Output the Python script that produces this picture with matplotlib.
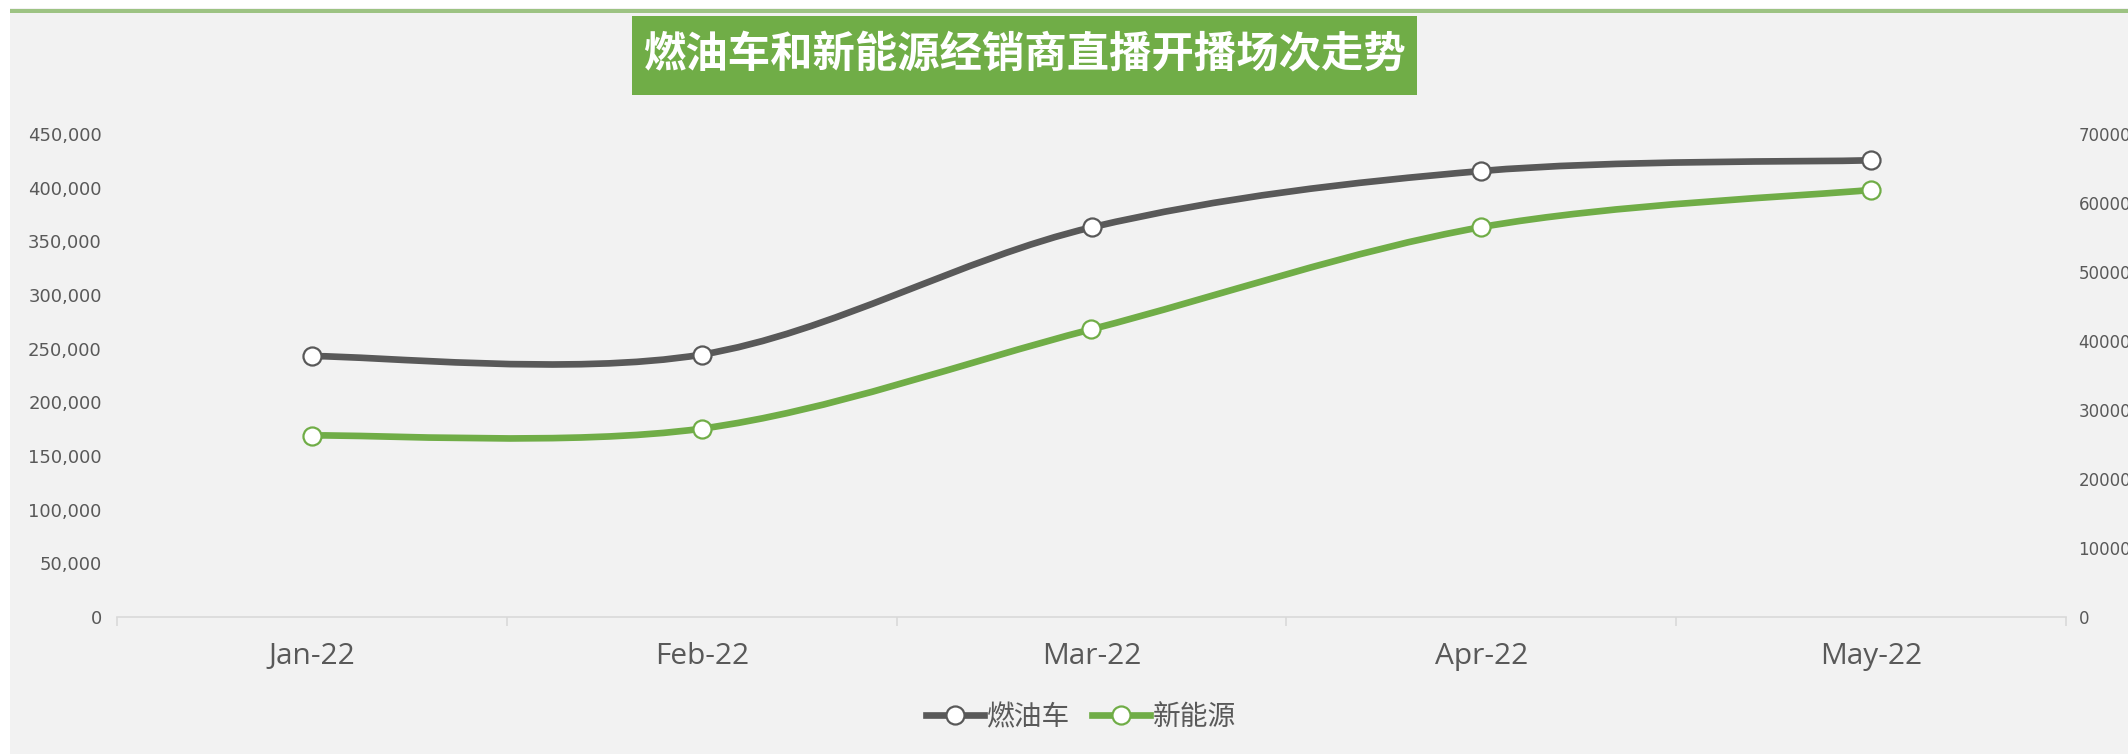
import matplotlib
matplotlib.use('Agg')
import matplotlib.pyplot as plt
import numpy as np
from matplotlib.path import Path
from matplotlib.patches import PathPatch, Rectangle
from matplotlib.lines import Line2D
from matplotlib.ticker import FuncFormatter

months = ['Jan-22', 'Feb-22', 'Mar-22', 'Apr-22', 'May-22']
fuel = [243000, 244500, 363000, 415500, 425500]      # 燃油车, left axis
nev = [26300, 27300, 41700, 56500, 61900]            # 新能源, right axis
left_ticks = [0, 50000, 100000, 150000, 200000, 250000, 300000, 350000, 400000, 450000]
right_ticks = [0, 10000, 20000, 30000, 40000, 50000, 60000, 70000]

title = '燃油车和新能源经销商直播开播场次走势'
GRAY = '#595959'
GREEN = '#70AD47'
TXT = '#595959'
CJK = ['Noto Sans CJK SC', 'DejaVu Sans']


def smooth_path(x, y):
    # Excel-style smoothed line: cubic bezier through every point
    pts = np.column_stack([x, y]).astype(float)
    n = len(pts)
    verts = [pts[0]]
    codes = [Path.MOVETO]
    for i in range(n - 1):
        p0 = pts[max(i - 1, 0)]
        p1 = pts[i]
        p2 = pts[i + 1]
        p3 = pts[min(i + 2, n - 1)]
        c1 = p1 + (p2 - p0) / 6.0
        c2 = p2 - (p3 - p1) / 6.0
        verts += [c1, c2, p2]
        codes += [Path.CURVE4] * 3
    return Path(verts, codes)


fig = plt.figure(figsize=(21.28, 7.54), dpi=100, facecolor='white')

# chart area background + thin green top rule
fig.patches.append(Rectangle((10 / 2128, 0), 1, 1 - 8 / 754, transform=fig.transFigure,
                             facecolor='#F2F2F2', edgecolor='none', zorder=-10))
fig.patches.append(Rectangle((10 / 2128, 1 - 12.5 / 754), 1, 3 / 754, transform=fig.transFigure,
                             facecolor='#9DC383', edgecolor='none', zorder=-9))

ax = fig.add_axes([117 / 2128, 1 - 617 / 754, (2066 - 117) / 2128, (617 - 134) / 754])
ax.set_facecolor('none')
ax2 = ax.twinx()

x = np.arange(len(months))

ax.add_patch(PathPatch(smooth_path(x, fuel), facecolor='none', edgecolor=GRAY,
                       lw=4.8, capstyle='round', zorder=3))
ax.plot(x, fuel, 'o', ms=13, mfc='white', mec=GRAY, mew=1.6, zorder=4)

ax2.add_patch(PathPatch(smooth_path(x, nev), facecolor='none', edgecolor=GREEN,
                        lw=4.8, capstyle='round', zorder=3))
ax2.plot(x, nev, 'o', ms=13, mfc='white', mec=GREEN, mew=1.6, zorder=4)

ax.set_xlim(-0.5, len(months) - 0.5)
ax.set_ylim(0, 450000)
ax2.set_ylim(0, 70000)

ax.set_yticks(left_ticks)
ax.yaxis.set_major_formatter(FuncFormatter(lambda v, p: f'{int(v):,}'))
ax.tick_params(axis='y', length=0, pad=11, labelsize=13, labelcolor=TXT)
ax2.set_yticks(right_ticks)
ax2.yaxis.set_major_formatter(FuncFormatter(lambda v, p: f'{int(v)}'))
ax2.tick_params(axis='y', length=0, pad=9, labelsize=12, labelcolor=TXT)

ax.set_xticks(x)
ax.set_xticklabels(months, fontfamily='Open Sans', fontsize=21.5, color=TXT)
ax.set_xticks(np.arange(-0.5, len(months)), minor=True)
ax.tick_params(axis='x', which='major', length=0, pad=18)
ax.tick_params(axis='x', which='minor', length=6.5, width=1.2, color='#D9D9D9', direction='out')

for a in (ax, ax2):
    for s in ['top', 'left', 'right', 'bottom']:
        a.spines[s].set_visible(False)
ax.spines['bottom'].set_visible(True)
ax.spines['bottom'].set_color('#D9D9D9')
ax.spines['bottom'].set_linewidth(1.2)

# title box
fig.patches.append(Rectangle((632 / 2128, 1 - 95 / 754), (1417 - 632) / 2128, 79 / 754,
                             transform=fig.transFigure, facecolor=GREEN, edgecolor='none'))
fig.text(1024.5 / 2128, 1 - 55 / 754, title, ha='center', va='center', color='white',
         fontsize=30.5, fontweight='bold', family=CJK)

handles = [
    Line2D([], [], color=GRAY, lw=4.8, marker='o', ms=13, mfc='white', mec=GRAY, mew=1.6),
    Line2D([], [], color=GREEN, lw=4.8, marker='o', ms=13, mfc='white', mec=GREEN, mew=1.6),
]
leg = fig.legend(handles, ['燃油车', '新能源'], loc='center', ncol=2,
                 bbox_to_anchor=(1081 / 2128, 1 - 717 / 754), frameon=False,
                 prop={'family': CJK, 'size': 20}, handlelength=2.1,
                 handletextpad=0.1, columnspacing=0.8, labelcolor=TXT)

plt.savefig('out.png', dpi=100, facecolor=fig.get_facecolor())
